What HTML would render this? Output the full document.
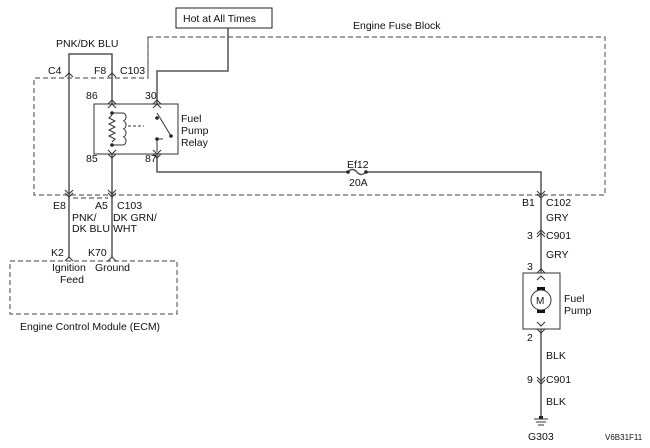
<!DOCTYPE html>
<html><head><style>
html,body{margin:0;padding:0;background:#fff}
svg{display:block}
text{font-family:"Liberation Sans",Arial,sans-serif;font-size:10.5px;fill:#111}
</style></head><body>
<svg width="650" height="448" viewBox="0 0 650 448" xmlns="http://www.w3.org/2000/svg">
<g fill="none" stroke="#666" stroke-width="1.2" stroke-dasharray="5,3">
<path d="M148,37 H605 V195 H34 V78 H148 Z"/>
<path d="M148,37 V78"/>
<path d="M73,198 H108"/>
<rect x="10" y="261" width="167" height="53"/>
</g>
<rect x="176" y="8" width="96" height="20" fill="#fff" stroke="#222" stroke-width="1"/>
<text x="183" y="22">Hot at All Times</text>
<text x="353" y="29">Engine Fuse Block</text>
<g fill="none" stroke="#555" stroke-width="1.5">
<path d="M69,78 V54 H112 V104"/>
<path d="M69,78 V257"/>
<path d="M112,154 V257"/>
<path d="M157,104 V71 H228 V28"/>
<path d="M157,154 V172 H348"/>
<path d="M366,172 H541 V273"/>
<path d="M541,329 V418"/>
<path d="M348,172 q4,-5 9,0 q4,5 9,0"/>
</g>
<g fill="#222"><circle cx="348" cy="172" r="1.8"/><circle cx="366" cy="172" r="1.8"/></g>
<text x="347" y="168">Ef12</text><text x="349" y="186">20A</text>
<g fill="none" stroke="#333" stroke-width="1">
<path d="M65,77 l4,-4 l4,4 M108,77 l4,-4 l4,4"/>
<path d="M65,193 l4,4 l4,-4 M65,190 l4,4 l4,-4 M108,193 l4,4 l4,-4 M108,190 l4,4 l4,-4"/>
<path d="M65,261 l4,-4 l4,4 M108,261 l4,-4 l4,4"/>
<path d="M108,104 l4,-4 l4,4 M108,108 l4,-4 l4,4 M153,104 l4,-4 l4,4 M153,108 l4,-4 l4,4"/>
<path d="M108,150 l4,4 l4,-4 M108,154 l4,4 l4,-4 M153,150 l4,4 l4,-4 M153,154 l4,4 l4,-4"/>
<path d="M537,191 l4,4 l4,-4 M537,194 l4,4 l4,-4"/>
<path d="M537,234 l4,-4 l4,4 M537,237 l4,-4 l4,4"/>
<path d="M537,273 l4,-4 l4,4 M537,280 l4,-4 l4,4 M537,322 l4,4 l4,-4 M537,329 l4,4 l4,-4"/>
<path d="M537,377 l4,4 l4,-4 M537,380 l4,4 l4,-4"/>
</g>
<rect x="94" y="104" width="84" height="50" fill="none" stroke="#333" stroke-width="1"/>
<g fill="none" stroke="#333" stroke-width="1">
<path d="M112,113 H123 M112,145 H123"/>
<path d="M112,115 l-3,3 l6,3 l-6,3 l6,3 l-6,3 l6,3 l-6,3 l6,3 l-3,3"/>
<path d="M123,113 a3,4 0 0 1 0,8 a3,4 0 0 1 0,8 a3,4 0 0 1 0,8 a3,4 0 0 1 0,8"/>
<path d="M128,126 H144" stroke-dasharray="3,2"/>
<path d="M157,113 L171,136 M157,139 h6" />
<path d="M157,139 V152"/>
</g>
<g fill="#222"><circle cx="112" cy="113" r="1.8"/><circle cx="112" cy="145" r="1.8"/><circle cx="157" cy="118" r="1.8"/><circle cx="157" cy="139" r="1.8"/><circle cx="171" cy="136" r="1.8"/></g>
<text x="181" y="122">Fuel</text><text x="181" y="134">Pump</text><text x="181" y="146">Relay</text>
<text x="86" y="99">86</text><text x="145" y="99">30</text>
<text x="86" y="162">85</text><text x="145" y="162">87</text>
<text x="56" y="47">PNK/DK BLU</text>
<text x="48" y="74">C4</text><text x="94" y="74">F8</text><text x="120" y="74">C103</text>
<text x="53" y="209">E8</text><text x="95" y="209">A5</text><text x="117" y="209">C103</text>
<text x="72" y="221">PNK/</text><text x="72" y="232">DK BLU</text>
<text x="113" y="221">DK GRN/</text><text x="113" y="232">WHT</text>
<text x="51" y="256">K2</text><text x="88" y="256">K70</text>
<text x="52" y="271">Ignition</text><text x="60" y="283">Feed</text><text x="95" y="271">Ground</text>
<text x="20" y="330">Engine Control Module (ECM)</text>
<rect x="523" y="273" width="37" height="56" fill="none" stroke="#333" stroke-width="1"/>
<rect x="537" y="287" width="8" height="6" fill="#111"/><rect x="537" y="307" width="8" height="6" fill="#111"/>
<circle cx="541" cy="300" r="10" fill="#fff" stroke="#333"/>
<text x="536" y="304" style="font-size:10px">M</text>
<text x="564" y="302">Fuel</text><text x="564" y="314">Pump</text>
<text x="522" y="206">B1</text><text x="546" y="206">C102</text>
<text x="546" y="221">GRY</text>
<text x="527" y="239">3</text><text x="546" y="239">C901</text>
<text x="546" y="258">GRY</text>
<text x="527" y="270">3</text>
<text x="527" y="341">2</text>
<text x="546" y="359">BLK</text>
<text x="527" y="383">9</text><text x="546" y="383">C901</text>
<text x="546" y="405">BLK</text>
<g stroke="#333" stroke-width="1"><line x1="534" y1="419" x2="548" y2="419"/><line x1="536" y1="422" x2="546" y2="422"/><line x1="538" y1="425" x2="544" y2="425"/></g>
<rect x="539" y="416" width="4" height="3" fill="#222"/>
<text x="528" y="440">G303</text>
<text x="605" y="440" style="font-size:8px">V6B31F11</text>
</svg>
</body></html>
